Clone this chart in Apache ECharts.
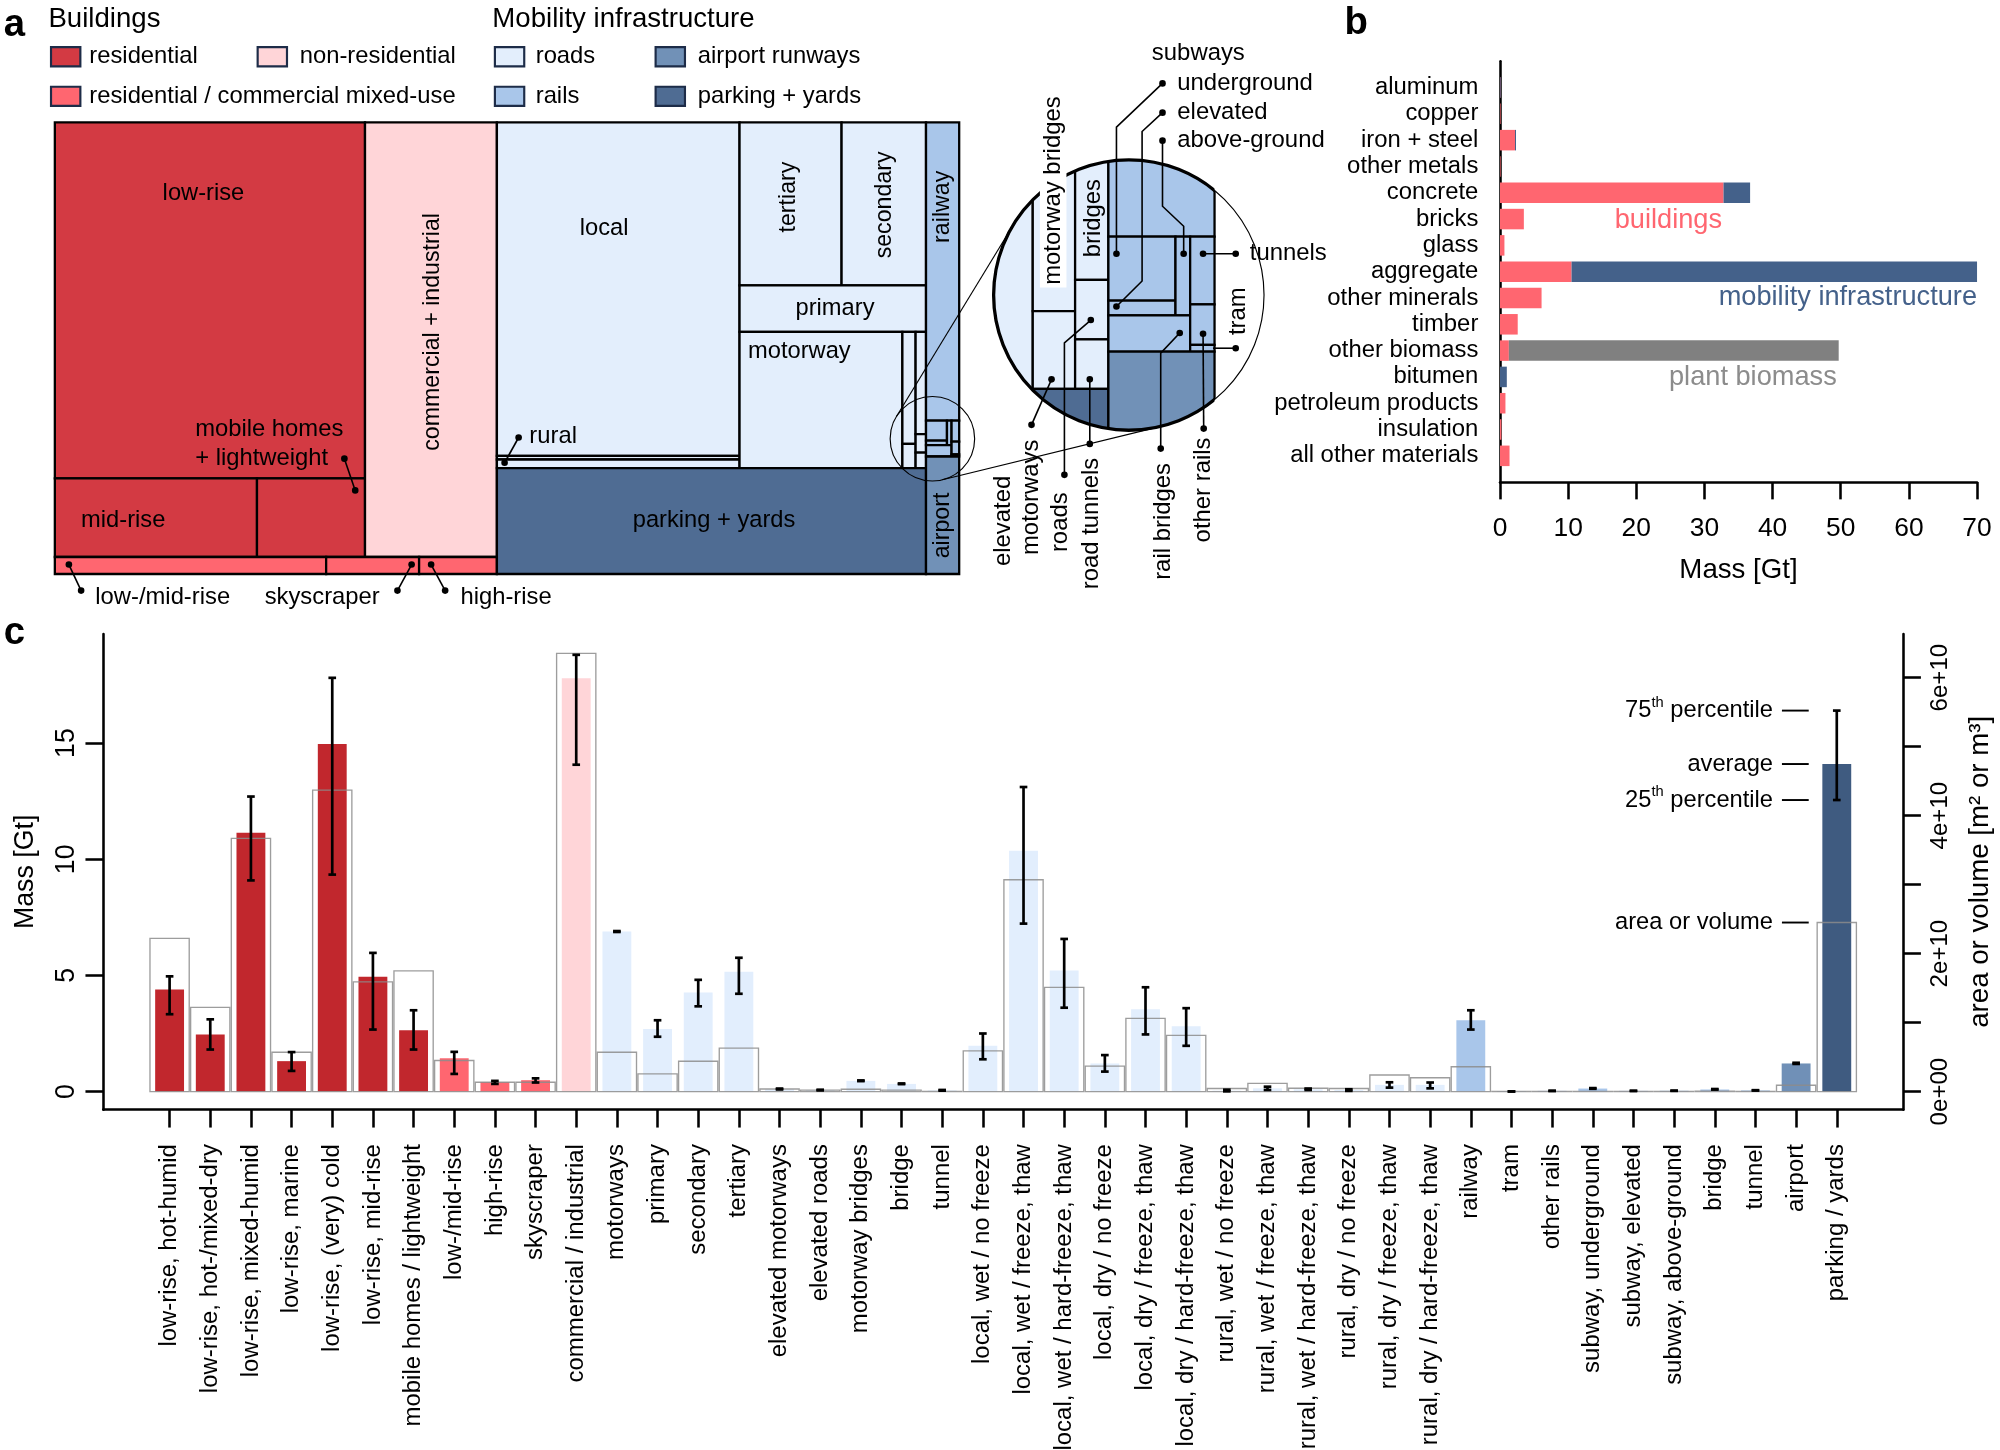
<!DOCTYPE html>
<html>
<head>
<meta charset="utf-8">
<title>Material stocks of buildings and mobility infrastructure</title>
<script src="https://cdn.jsdelivr.net/npm/echarts@6.0.0/dist/echarts.min.js"></script>
<style>
html,body{margin:0;padding:0;background:#ffffff;}
#chart{width:2000px;height:1450px;}
</style>
</head>
<body>
<div id="chart"></div>
<script>
// ================= DATA =================
const categories = [
  'low-rise, hot-humid', 'low-rise, hot-/mixed-dry', 'low-rise, mixed-humid', 'low-rise, marine',
  'low-rise, (very) cold', 'low-rise, mid-rise', 'mobile homes / lightweight', 'low-/mid-rise',
  'high-rise', 'skyscraper', 'commercial / industrial', 'motorways', 'primary', 'secondary', 'tertiary',
  'elevated motorways', 'elevated roads', 'motorway bridges', 'bridge', 'tunnel',
  'local, wet / no freeze', 'local, wet / freeze, thaw', 'local, wet / hard-freeze, thaw',
  'local, dry / no freeze', 'local, dry / freeze, thaw', 'local, dry / hard-freeze, thaw',
  'rural, wet / no freeze', 'rural, wet / freeze, thaw', 'rural, wet / hard-freeze, thaw',
  'rural, dry / no freeze', 'rural, dry / freeze, thaw', 'rural, dry / hard-freeze, thaw',
  'railway', 'tram', 'other rails', 'subway, underground', 'subway, elevated', 'subway, above-ground',
  'bridge', 'tunnel', 'airport', 'parking / yards'
];
const catGroup = ['res','res','res','res','res','res','res','mix','mix','mix','com',
  'road','road','road','road','road','road','road','road','road',
  'road','road','road','road','road','road','road','road','road','road','road','road',
  'rail','rail','rail','rail','rail','rail','rail','rail','air','park'];
// average mass [Gt]
const massAvg = [4.39, 2.46, 11.14, 1.31, 14.96, 4.94, 2.64, 1.43, 0.41, 0.49, 17.79,
  6.89, 2.69, 4.27, 5.16, 0.10, 0.06, 0.46, 0.33, 0.05,
  1.97, 10.37, 5.21, 1.21, 3.54, 2.81,
  0.04, 0.14, 0.10, 0.07, 0.29, 0.29,
  3.07, 0.005, 0.03, 0.13, 0.03, 0.035, 0.09, 0.05, 1.21, 14.10];
const massP25 = [3.33, 1.81, 9.09, 0.89, 9.34, 2.67, 1.81, 0.76, 0.33, 0.39, 14.07,
  6.87, 2.36, 3.67, 4.21, 0.09, 0.05, 0.45, 0.32, 0.04,
  1.39, 7.23, 3.61, 0.86, 2.46, 1.97,
  0.01, 0.07, 0.07, 0.03, 0.17, 0.14,
  2.67, 0.004, 0.025, 0.12, 0.025, 0.03, 0.085, 0.045, 1.19, 12.55];
const massP75 = [4.96, 3.11, 12.70, 1.70, 17.81, 5.97, 3.50, 1.71, 0.46, 0.57, 18.80,
  6.91, 3.07, 4.81, 5.76, 0.13, 0.08, 0.48, 0.35, 0.07,
  2.50, 13.11, 6.57, 1.57, 4.49, 3.59,
  0.08, 0.21, 0.13, 0.10, 0.40, 0.39,
  3.50, 0.006, 0.035, 0.15, 0.035, 0.04, 0.11, 0.06, 1.24, 16.40];
// area or volume [m2 or m3]
const areaVol = [2.22e10, 1.22e10, 3.67e10, 0.57e10, 4.37e10, 1.59e10, 1.75e10, 0.45e10, 0.135e10, 0.135e10, 6.35e10,
  0.57e10, 0.257e10, 0.44e10, 0.63e10, 0.037e10, 0.02e10, 0.034e10, 0.02e10, 0.004e10,
  0.59e10, 3.07e10, 1.51e10, 0.37e10, 1.06e10, 0.815e10,
  0.044e10, 0.12e10, 0.048e10, 0.044e10, 0.24e10, 0.2e10,
  0.36e10, 0.003e10, 0.003e10, 0.004e10, 0.003e10, 0.003e10, 0.005e10, 0.004e10, 0.092e10, 2.45e10];

const materials = ['aluminum', 'copper', 'iron + steel', 'other metals', 'concrete', 'bricks', 'glass',
  'aggregate', 'other minerals', 'timber', 'other biomass', 'bitumen', 'petroleum products',
  'insulation', 'all other materials'];
const matBuildings = [0.03, 0.02, 2.2, 0.02, 32.8, 3.5, 0.65, 10.5, 6.1, 2.6, 1.3, 0, 0.8, 0.2, 1.4];
const matMobility  = [0.01, 0, 0.15, 0, 3.9, 0, 0, 59.5, 0, 0, 0, 1.0, 0, 0, 0];
const matPlant     = [0, 0, 0, 0, 0, 0, 0, 0, 0, 0, 48.4, 0, 0, 0, 0];
const matSeriesNames = ['buildings', 'mobility infrastructure', 'plant biomass'];

const massTicksC = [0, 5, 10, 15];
const areaTicks = [0, 1e10, 2e10, 3e10, 4e10, 5e10, 6e10];
const areaLabelTicks = [0, 2e10, 4e10, 6e10];
const areaTickLabels = ['0e+00', '2e+10', '4e+10', '6e+10'];

// ================= STYLE HELPERS =================
const S = 2000 / 1568;
const P = v => v * S;
const FONT = "'Liberation Sans', Arial, Helvetica, sans-serif";
const COL = {res:'#d33a43', mix:'#ff6670', com:'#ffd5d8', road:'#e3eefc', rail:'#a9c6ea', air:'#7191b7', park:'#4f6c93'};
const BARCOL = {res:'#c1272d', mix:'#ff6670', com:'#ffd5d8', road:'#e2eefd', rail:'#a9c6ea', air:'#7090b7', park:'#3f5b80'};
const MATCOL = ['#ff6670', '#44618a', '#808080'];
const LW = P(1.8);

const mctx = document.createElement('canvas').getContext('2d');
function tw(text, px) { mctx.font = px.toFixed(1) + 'px ' + FONT; return mctx.measureText(text).width; }

// ================= TREEMAP LAYOUT (from masses) =================
const N = (dir, children) => ({dir, children});
const Lf = (idx, label) => ({idx, grp: catGroup[idx[0]], label});
const tmTree = N('h', [
  N('v', [
    N('h', [
      N('v', [
        Lf([0,1,2,3,4], {text:'low-rise', fx:0.479, fy:0.199}),
        N('h', [ Lf([5], {text:'mid-rise', fx:0.13, fy:0.535, align:'left'}), Lf([6]) ])
      ]),
      Lf([10], {text:'commercial + industrial', fx:0.514, fy:0.482, rot:true})
    ]),
    N('h', [ Lf([7]), Lf([9]), Lf([8]) ])
  ]),
  N('h', [
    N('v', [
      N('h', [
        N('v', [ Lf([20,21,22,23,24,25], {text:'local', fx:0.442, fy:0.317}),
                 N('v', [ Lf([26,27,28]), Lf([29,30,31]) ]) ]),
        N('v', [
          N('h', [ Lf([14], {text:'tertiary', fx:0.484, fy:0.458, rot:true}),
                   Lf([13], {text:'secondary', fx:0.51, fy:0.506, rot:true}) ]),
          Lf([12], {text:'primary', fx:0.512, fy:0.49}),
          N('h', [
            Lf([11], {text:'motorway', fx:0.052, fy:0.145, align:'left'}),
            N('h', [ N('v', [Lf([17]), Lf([15])]), N('v', [Lf([18]), Lf([16]), Lf([19])]) ])
          ])
        ])
      ]),
      Lf([41], {text:'parking + yards', fx:0.506, fy:0.49})
    ]),
    N('v', [
      Lf([32], {text:'railway', fx:0.49, fy:0.283, rot:true}),
      N('h', [
        N('v', [ N('h', [ N('v', [Lf([35]), Lf([36])]), Lf([37]) ]), Lf([38]) ]),
        N('v', [ Lf([39]), Lf([34]), Lf([33]) ])
      ]),
      Lf([40], {text:'airport', fx:0.49, fy:0.587, rot:true})
    ])
  ])
]);
function nodeVal(n) { return n.idx ? n.idx.reduce((s, i) => s + massAvg[i], 0) : n.children.reduce((s, c) => s + nodeVal(c), 0); }
const leaves = [];
function lay(n, x0, y0, x1, y1) {
  n.r = [x0, y0, x1, y1];
  if (!n.children) { leaves.push(n); return; }
  const tot = nodeVal(n); let acc = 0;
  n.children.forEach(c => {
    const v = nodeVal(c), a = acc / tot, b = (acc + v) / tot;
    if (n.dir === 'h') lay(c, x0 + (x1 - x0) * a, y0, x0 + (x1 - x0) * b, y1);
    else lay(c, x0, y0 + (y1 - y0) * a, x1, y0 + (y1 - y0) * b);
    acc += v;
  });
}
lay(tmTree, 0, 0, 1, 1);

// magnifier geometry (display units -> px)
const C1d = [731, 344], C2d = [885, 231.3], R2d = 106, MAG = 3.2, R1d = R2d / MAG;
const C1 = [P(C1d[0]), P(C1d[1])], C2 = [P(C2d[0]), P(C2d[1])], R2 = P(R2d);

function textEl(x, y, text, size, o) {
  o = o || {};
  const al = o.align || 'center', va = o.va || 'middle';
  const st = {text, font: (o.bold ? 'bold ' : '') + size.toFixed(1) + 'px ' + FONT, fill: o.color || '#000',
    align: al, verticalAlign: va, textAlign: al, textVerticalAlign: va};
  if (o.bg) { st.backgroundColor = o.bg; st.padding = o.pad || 0; }
  return {type: 'text', x, y, rotation: o.rot ? Math.PI / 2 : 0, z2: 5, style: st};
}

function rTree(params, api) {
  const n = leaves[params.dataIndex];
  const p0 = api.coord([n.r[0], n.r[1]]), p1 = api.coord([n.r[2], n.r[3]]);
  const ch = [{type: 'rect', shape: {x: p0[0], y: p0[1], width: p1[0] - p0[0], height: p1[1] - p0[1]},
    style: {fill: COL[n.grp], stroke: '#000', lineWidth: LW}}];
  if (n.label) {
    const L = n.label;
    ch.push(textEl(p0[0] + (p1[0] - p0[0]) * L.fx, p0[1] + (p1[1] - p0[1]) * L.fy, L.text,
      P(L.rot ? 18.2 : 18.6), {align: L.align || 'center', rot: L.rot}));
  }
  return {type: 'group', children: ch};
}

function rInset(params, api) {
  const tf = p => [C2[0] + (p[0] - C1[0]) * MAG, C2[1] + (p[1] - C1[1]) * MAG];
  const kids = [{type: 'circle', shape: {cx: C2[0], cy: C2[1], r: R2}, style: {fill: '#ffffff'}}];
  leaves.forEach(n => {
    const a = tf(api.coord([n.r[0], n.r[1]])), b = tf(api.coord([n.r[2], n.r[3]]));
    if (b[0] < C2[0] - R2 - 10 || a[0] > C2[0] + R2 + 10 || b[1] < C2[1] - R2 - 10 || a[1] > C2[1] + R2 + 10) return;
    kids.push({type: 'rect', shape: {x: a[0], y: a[1], width: b[0] - a[0], height: b[1] - a[1]},
      style: {fill: COL[n.grp], stroke: '#000', lineWidth: LW}});
  });
  const f0 = tf(api.coord([0, 0])), f1 = tf(api.coord([1, 1]));
  return {type: 'group', children: [
    {type: 'group', clipPath: {type: 'circle', shape: {cx: C2[0], cy: C2[1], r: R2}}, children: kids},
    {type: 'group', clipPath: {type: 'rect', shape: {x: f0[0], y: f0[1], width: f1[0] - f0[0], height: f1[1] - f0[1]}},
      children: [{type: 'circle', shape: {cx: C2[0], cy: C2[1], r: R2}, style: {fill: 'none', stroke: '#000', lineWidth: P(2.6)}}]},
    {type: 'circle', shape: {cx: C2[0], cy: C2[1], r: R2}, style: {fill: 'none', stroke: '#000', lineWidth: P(0.9)}}
  ]};
}

// ================= PANEL B bars =================
const bData = [];
materials.forEach((m, i) => {
  let acc = 0;
  [matBuildings, matMobility, matPlant].forEach((arr, s) => {
    const v = arr[i];
    if (v > 0) bData.push([acc, acc + v, i, s]);
    acc += v;
  });
});
function rBarB(params, api) {
  const s0 = api.value(0), s1 = api.value(1), i = api.value(2), s = api.value(3);
  const p0 = api.coord([s0, i]), p1 = api.coord([s1, i]);
  const h = Math.abs(api.size([0, 1])[1]) * 0.78;
  return {type: 'rect', shape: {x: p0[0], y: p0[1] - h / 2, width: Math.max(p1[0] - p0[0], 0.6), height: h},
    style: {fill: MATCOL[s]}};
}

// ================= PANEL C renderers =================
function rMass(params, api) {
  const i = api.value(0), v = api.value(1);
  const p = api.coord([i, v]), p0 = api.coord([i, 0]);
  const bw = api.size([1, 0])[0] * 0.71;
  return {type: 'rect', shape: {x: p[0] - bw / 2, y: p[1], width: bw, height: Math.max(p0[1] - p[1], 0.5)},
    style: {fill: BARCOL[catGroup[i]]}};
}
function rArea(params, api) {
  const i = api.value(0), v = api.value(1);
  const p = api.coord([i, v]), p0 = api.coord([i, 0]);
  const bw = api.size([1, 0])[0] * 0.965;
  return {type: 'rect', shape: {x: p[0] - bw / 2, y: p[1], width: bw, height: p0[1] - p[1]},
    style: {fill: 'none', stroke: 'rgba(140,140,140,0.85)', lineWidth: P(1.05)}};
}
function rErr(params, api) {
  const i = api.value(0);
  const a = api.coord([i, api.value(1)]), b = api.coord([i, api.value(2)]);
  const cw = P(3.0), st = {stroke: '#000', lineWidth: P(2.1)};
  return {type: 'group', children: [
    {type: 'line', shape: {x1: a[0], y1: a[1], x2: b[0], y2: b[1]}, style: st},
    {type: 'line', shape: {x1: a[0] - cw, y1: a[1], x2: a[0] + cw, y2: a[1]}, style: st},
    {type: 'line', shape: {x1: b[0] - cw, y1: b[1], x2: b[0] + cw, y2: b[1]}, style: st}
  ]};
}
function annotPieces(cx, y, parts) {
  const fsN = P(18.6), fsS = P(11.5);
  const kids = [{type: 'line', shape: {x1: cx - P(43), y1: y, x2: cx - P(22), y2: y}, style: {stroke: '#000', lineWidth: P(1.5)}}];
  let x = cx - P(50);
  for (let k = parts.length - 1; k >= 0; k--) {
    const t = parts[k][0], sm = parts[k][1], fs = sm ? fsS : fsN;
    if (!t) continue;
    kids.push(textEl(x, sm ? y - P(6) : y, t, fs, {align: 'right'}));
    x -= tw(t, fs);
  }
  return kids;
}
function rAnnotMass(params, api) {
  const i = api.value(0);
  const cx = api.coord([i, 0])[0];
  let kids = [];
  kids = kids.concat(annotPieces(cx, api.coord([i, api.value(1)])[1], [['75', false], ['th', true], [' percentile', false]]));
  kids = kids.concat(annotPieces(cx, api.coord([i, api.value(2)])[1], [['average', false]]));
  kids = kids.concat(annotPieces(cx, api.coord([i, api.value(3)])[1], [['25', false], ['th', true], [' percentile', false]]));
  return {type: 'group', children: kids};
}
function rAnnotArea(params, api) {
  const i = api.value(0);
  const p = api.coord([i, api.value(1)]);
  return {type: 'group', children: annotPieces(p[0], p[1], [['area or volume', false]])};
}

// ================= GRAPHIC ANNOTATIONS =================
const G = [];
function gText(x, y, text, o) {
  o = o || {};
  const el = textEl(P(x), P(y), text, P(o.fs || 18.65), {align: o.align || 'left', va: o.va, rot: o.rot, bold: o.bold, color: o.color, bg: o.bg, pad: o.pad});
  el.z = o.z || 50;
  G.push(el);
}
function gLine(pts, lw) { G.push({type: 'polyline', z: 49, shape: {points: pts.map(p => [P(p[0]), P(p[1])])}, style: {stroke: '#000', lineWidth: P(lw || 1.25), fill: 'none'}}); }
function gDot(x, y) { G.push({type: 'circle', z: 50, shape: {cx: P(x), cy: P(y), r: P(2.6)}, style: {fill: '#000'}}); }
function gLeader(pts, both) { gLine(pts); if (both !== false) gDot(pts[0][0], pts[0][1]); const e = pts[pts.length - 1]; gDot(e[0], e[1]); }
function gSwatch(x, y, fill) { G.push({type: 'rect', z: 50, shape: {x: P(x), y: P(y), width: P(23), height: P(15)}, style: {fill, stroke: '#1d2c48', lineWidth: P(1.7)}}); }

// panel letters
gText(3, 20, 'a', {fs: 30, bold: true});
gText(1054, 18, 'b', {fs: 30, bold: true});
gText(3, 497, 'c', {fs: 30, bold: true});
// legend
gText(38, 15, 'Buildings', {fs: 21.6});
gText(386, 15, 'Mobility infrastructure', {fs: 21.6});
[[40, 37, 'res', 'residential', 70], [202, 37, 'com', 'non-residential', 235],
 [40, 68, 'mix', 'residential / commercial mixed-use', 70],
 [388, 37, 'road', 'roads', 420], [388, 68, 'rail', 'rails', 420],
 [514, 37, 'air', 'airport runways', 547], [514, 68, 'park', 'parking + yards', 547]].forEach(l => {
  gSwatch(l[0], l[1], COL[l[2]]);
  gText(l[4], l[1] + 7.5, l[3]);
});
// treemap annotations
gText(153, 337, 'mobile homes');
gText(153, 359.6, '+ lightweight');
gLeader([[270, 359.6], [278.5, 384.5]]);
gText(415, 342, 'rural');
gLeader([[406.6, 343], [395.6, 362.8]]);
gText(74.7, 468.3, 'low-/mid-rise');
gLeader([[54, 442.6], [63.6, 463]]);
gText(207.5, 468.3, 'skyscraper');
gLeader([[322.7, 442.6], [311.6, 463]]);
gText(361, 468.3, 'high-rise');
gLeader([[338, 442.6], [349, 463]]);
// magnifier: small circle + external tangents
G.push({type: 'circle', z: 40, shape: {cx: P(C1d[0]), cy: P(C1d[1]), r: P(R1d)}, style: {fill: 'none', stroke: '#000', lineWidth: P(0.9)}});
(function () {
  const dx = C2d[0] - C1d[0], dy = C2d[1] - C1d[1], d = Math.hypot(dx, dy);
  const phi = Math.atan2(dy, dx), th = Math.acos((R2d - R1d) / d);
  [phi + th, phi - th].forEach(al => {
    const nx = Math.cos(al), ny = Math.sin(al);
    gLine([[C1d[0] - R1d * nx, C1d[1] - R1d * ny], [C2d[0] - R2d * nx, C2d[1] - R2d * ny]], 0.9);
  });
})();
// inset labels
const insetFs = 18.7;
gText(939.5, 42, 'subways', {align: 'center', fs: insetFs});
gText(923, 65, 'underground', {fs: insetFs});
gText(923, 88, 'elevated', {fs: insetFs});
gText(923, 110, 'above-ground', {fs: insetFs});
gText(979.8, 199, 'tunnels', {fs: insetFs});
gText(970.6, 244, 'tram', {align: 'center', rot: true, fs: insetFs});
gText(857, 171, 'bridges', {align: 'center', rot: true, fs: insetFs});
gText(825.7, 149.4, 'motorway bridges', {align: 'center', rot: true, fs: insetFs, bg: '#ffffff', pad: [P(1), P(2)], z: 60});
gText(786.5, 373, 'elevated', {align: 'right', rot: true, fs: insetFs});
gText(808.7, 344.6, 'motorways', {align: 'right', rot: true, fs: insetFs});
gText(831, 386, 'roads', {align: 'right', rot: true, fs: insetFs});
gText(856, 358.9, 'road tunnels', {align: 'right', rot: true, fs: insetFs});
gText(912, 363, 'rail bridges', {align: 'right', rot: true, fs: insetFs});
gText(943.5, 343, 'other rails', {align: 'right', rot: true, fs: insetFs});
gLeader([[911.4, 65.4], [875.3, 99.7], [875.3, 198.9]]);
gLeader([[911.4, 88.3], [895.4, 103.1], [895.4, 220.3], [875.3, 240.3]]);
gLeader([[911.4, 110.3], [911.4, 161.7], [928, 177.4], [928, 198.9]]);
gLeader([[943.2, 198.9], [968.8, 198.9]]);
gLeader([[951, 273], [968.8, 273]], false);
gLeader([[943.2, 261.7], [943.7, 336]]);
gLeader([[924.9, 261.1], [910, 276.9], [910, 351.7]]);
gLeader([[854.4, 297.4], [854.4, 348]]);
gLeader([[855.2, 250.9], [834.5, 268.9], [834.5, 372.3]]);
gLeader([[824.4, 297.4], [808.7, 333.1]]);
// panel b annotations
gText(1308, 173, matSeriesNames[0], {align: 'center', fs: 21.3, color: '#ff6670'});
gText(1550, 233, matSeriesNames[1], {align: 'right', fs: 21.3, color: '#44618a'});
gText(1440, 296, matSeriesNames[2], {align: 'right', fs: 21.3, color: '#8c8c8c'});

// ================= OPTION =================
const axLine = {show: true, onZero: false, lineStyle: {color: '#000', width: P(2)}};
const tick = len => ({show: true, inside: false, length: P(len), lineStyle: {color: '#000', width: P(2)}});
const lab = (fs, extra) => Object.assign({show: true, color: '#000', fontFamily: FONT, fontSize: P(fs)}, extra || {});
const idxTicks = categories.map((c, i) => i);

const option = {
  animation: false,
  backgroundColor: '#ffffff',
  textStyle: {fontFamily: FONT},
  grid: [
    {left: P(43), top: P(96), width: P(709), height: P(354), outerBoundsMode: 'none', containLabel: false},
    {left: P(1176), top: P(48), width: P(374), height: P(330), outerBoundsMode: 'none', containLabel: false},
    {left: P(81), top: P(497), width: P(1411), height: P(373), outerBoundsMode: 'none', containLabel: false}
  ],
  xAxis: [
    {gridIndex: 0, type: 'value', min: 0, max: 1, show: false},
    {gridIndex: 1, type: 'value', min: 0, max: 70, interval: 10, axisLine: axLine, axisTick: tick(13.5),
      axisLabel: lab(20.7, {margin: P(26)}), splitLine: {show: false},
      name: 'Mass [Gt]', nameLocation: 'middle', nameGap: P(58), nameMoveOverlap: false,
      nameTextStyle: {color: '#000', fontFamily: FONT, fontSize: P(21.7)}},
    {gridIndex: 2, type: 'value', min: -1.63, max: 42.63, axisLine: axLine,
      axisTick: Object.assign(tick(14), {customValues: idxTicks}),
      axisLabel: lab(18.8, {customValues: idxTicks, rotate: 90, margin: P(27),
        formatter: v => categories[Math.round(v)] || ''}),
      splitLine: {show: false}}
  ],
  yAxis: [
    {gridIndex: 0, type: 'value', min: 0, max: 1, inverse: true, show: false},
    {gridIndex: 1, type: 'value', min: -1, max: 15, interval: 1, inverse: true, axisLine: axLine,
      axisTick: {show: false}, splitLine: {show: false},
      axisLabel: lab(18.7, {margin: P(17), formatter: v => materials[v] || ''})},
    {gridIndex: 2, type: 'value', min: -0.78, max: 19.7, position: 'left', axisLine: axLine,
      axisTick: Object.assign(tick(14), {customValues: massTicksC}),
      axisLabel: lab(21, {customValues: massTicksC, rotate: 90, margin: P(18)}),
      splitLine: {show: false},
      name: 'Mass [Gt]', nameLocation: 'middle', nameRotate: 90, nameGap: P(50), nameMoveOverlap: false,
      nameTextStyle: {color: '#000', fontFamily: FONT, fontSize: P(21)}},
    {gridIndex: 2, type: 'value', min: -0.2626e10, max: 6.633e10, position: 'right', axisLine: axLine,
      axisTick: Object.assign(tick(14), {customValues: areaTicks}),
      axisLabel: lab(18.9, {customValues: areaLabelTicks, rotate: 90, margin: P(20),
        formatter: v => areaTickLabels[areaLabelTicks.indexOf(v)] || ''}),
      splitLine: {show: false},
      name: 'area or volume [m\u00b2 or m\u00b3]', nameLocation: 'middle', nameRotate: 90, nameGap: P(50), nameMoveOverlap: false,
      nameTextStyle: {color: '#000', fontFamily: FONT, fontSize: P(21.7)}}
  ],
  series: [
    {type: 'custom', name: 'treemap', xAxisIndex: 0, yAxisIndex: 0, silent: true, z: 2,
      data: leaves.map(n => [(n.r[0] + n.r[2]) / 2, (n.r[1] + n.r[3]) / 2]), encode: {x: 0, y: 1}, renderItem: rTree},
    {type: 'custom', name: 'inset', xAxisIndex: 0, yAxisIndex: 0, silent: true, z: 5,
      data: [[0.5, 0.5]], encode: {x: 0, y: 1}, renderItem: rInset},
    {type: 'custom', name: 'materials', xAxisIndex: 1, yAxisIndex: 1, silent: true, z: 2,
      data: bData, encode: {x: [0, 1], y: 2}, renderItem: rBarB},
    {type: 'custom', name: 'mass', xAxisIndex: 2, yAxisIndex: 2, silent: true, z: 2,
      data: massAvg.map((v, i) => [i, v]), encode: {x: 0, y: 1}, renderItem: rMass},
    {type: 'custom', name: 'area', xAxisIndex: 2, yAxisIndex: 3, silent: true, z: 3,
      data: areaVol.map((v, i) => [i, v]), encode: {x: 0, y: 1}, renderItem: rArea},
    {type: 'custom', name: 'iqr', xAxisIndex: 2, yAxisIndex: 2, silent: true, z: 4,
      data: massP25.map((v, i) => [i, v, massP75[i]]), encode: {x: 0, y: [1, 2]}, renderItem: rErr},
    {type: 'custom', name: 'annotMass', xAxisIndex: 2, yAxisIndex: 2, silent: true, z: 6,
      data: [[41, massP75[41], massAvg[41], massP25[41]]], encode: {x: 0, y: [1, 2, 3]}, renderItem: rAnnotMass},
    {type: 'custom', name: 'annotArea', xAxisIndex: 2, yAxisIndex: 3, silent: true, z: 6,
      data: [[41, areaVol[41]]], encode: {x: 0, y: 1}, renderItem: rAnnotArea}
  ],
  graphic: {elements: G}
};

const chart = echarts.init(document.getElementById('chart'), null, {renderer: 'canvas'});
chart.setOption(option);
</script>
</body>
</html>
